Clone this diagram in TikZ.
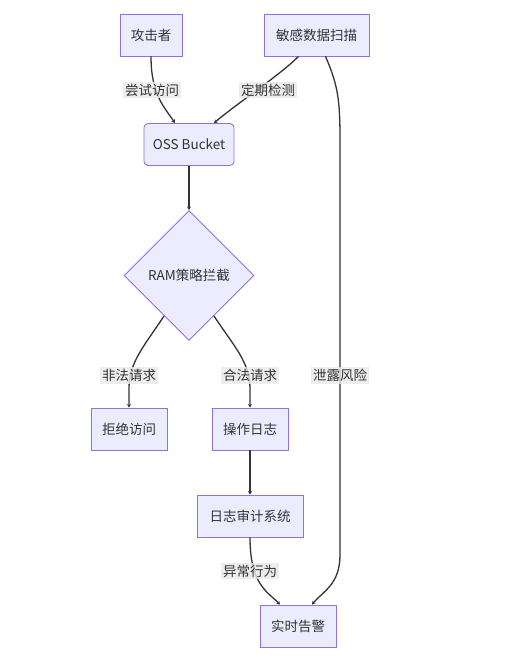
\documentclass[tikz,border=0pt]{standalone}
\usepackage{fontspec}
\setmainfont{Noto Sans CJK SC}
\usetikzlibrary{shapes.geometric,arrows.meta,calc}
\definecolor{nodefill}{HTML}{ECECFF}
\definecolor{nodeline}{HTML}{9370DB}
\definecolor{edgeline}{HTML}{333333}
\definecolor{lblbg}{HTML}{E8E8E8}
\definecolor{txt}{HTML}{333333}
\tikzset{
  box/.style={draw=nodeline, fill=nodefill, line width=0.9pt, inner sep=0pt, text=txt,
    font=\fontsize{13.5}{16}\selectfont, minimum height=42pt},
  rbox/.style={box, rounded corners=4pt},
  dia/.style={diamond, draw=nodeline, fill=nodefill, line width=0.9pt, inner sep=0pt, text=txt,
    font=\fontsize{13.5}{16}\selectfont, minimum width=130pt, minimum height=130pt, aspect=1},
  lbl/.style={fill=lblbg, fill opacity=0.8, text opacity=1, text=txt, inner sep=2pt,
    font=\fontsize{13.5}{16}\selectfont},
  edge/.style={draw=edgeline, line width=1.3pt, -{Stealth[length=3.5pt,width=4pt]}},
}
\begin{document}
\begin{tikzpicture}[x=1pt,y=-1pt]
\useasboundingbox (0,0) rectangle (505,670);
% nodes
\node[box, minimum width=62pt] (att) at (151,35) {攻击者};
\node[box, minimum width=105pt] (scan) at (316.5,35) {敏感数据扫描};
\node[rbox, minimum width=90pt] (oss) at (189,144.5) {OSS Bucket};
\node[dia] (ram) at (189,275.5) {RAM策略拦截};
\node[box, minimum width=76pt] (deny) at (129,429) {拒绝访问};
\node[box, minimum width=76pt] (log) at (250,429) {操作日志};
\node[box, minimum width=106pt] (audit) at (250,516) {日志审计系统};
\node[box, minimum width=76pt] (alert) at (298,626) {实时告警};
% edges
\draw[edge] (att.south) .. controls (151,95) and (165,108) .. ($(oss.north)+(-14,0)$);
\draw[edge] ($(scan.south)+(-18,0)$) .. controls (280,75) and (235,105) .. ($(oss.north)+(25,0)$);
\draw[edge] ($(scan.south)+(9,0)$) .. controls (338,85) and (340,100) .. (340,140)
   -- (340,555) .. controls (340,585) and (322,592) .. ($(alert.north)+(14,0)$);
\draw[edge] (oss.south) -- (ram.north);
\draw[edge] ($(ram.center)+(-25,40.5)$) .. controls (145,345) and (129,362) .. (129,388) -- (deny.north);
\draw[edge] ($(ram.center)+(25,40.5)$) .. controls (233,345) and (250,362) .. (250,388) -- (log.north);
\draw[edge] (log.south) -- (audit.north);
\draw[edge] (audit.south) .. controls (250,585) and (268,592) .. ($(alert.north)+(-18,0)$);
% labels
\node[lbl] (l1) at (152,90) {尝试访问};
\node[lbl] (l2) at (268,90) {定期检测};
\node[lbl] (l3) at (129,375.5) {非法请求};
\node[lbl] (l4) at (250,375.5) {合法请求};
\node[lbl] (l5) at (340,375.5) {泄露风险};
\node[lbl] (l6) at (250,571) {异常行为};
\end{tikzpicture}
\end{document}
